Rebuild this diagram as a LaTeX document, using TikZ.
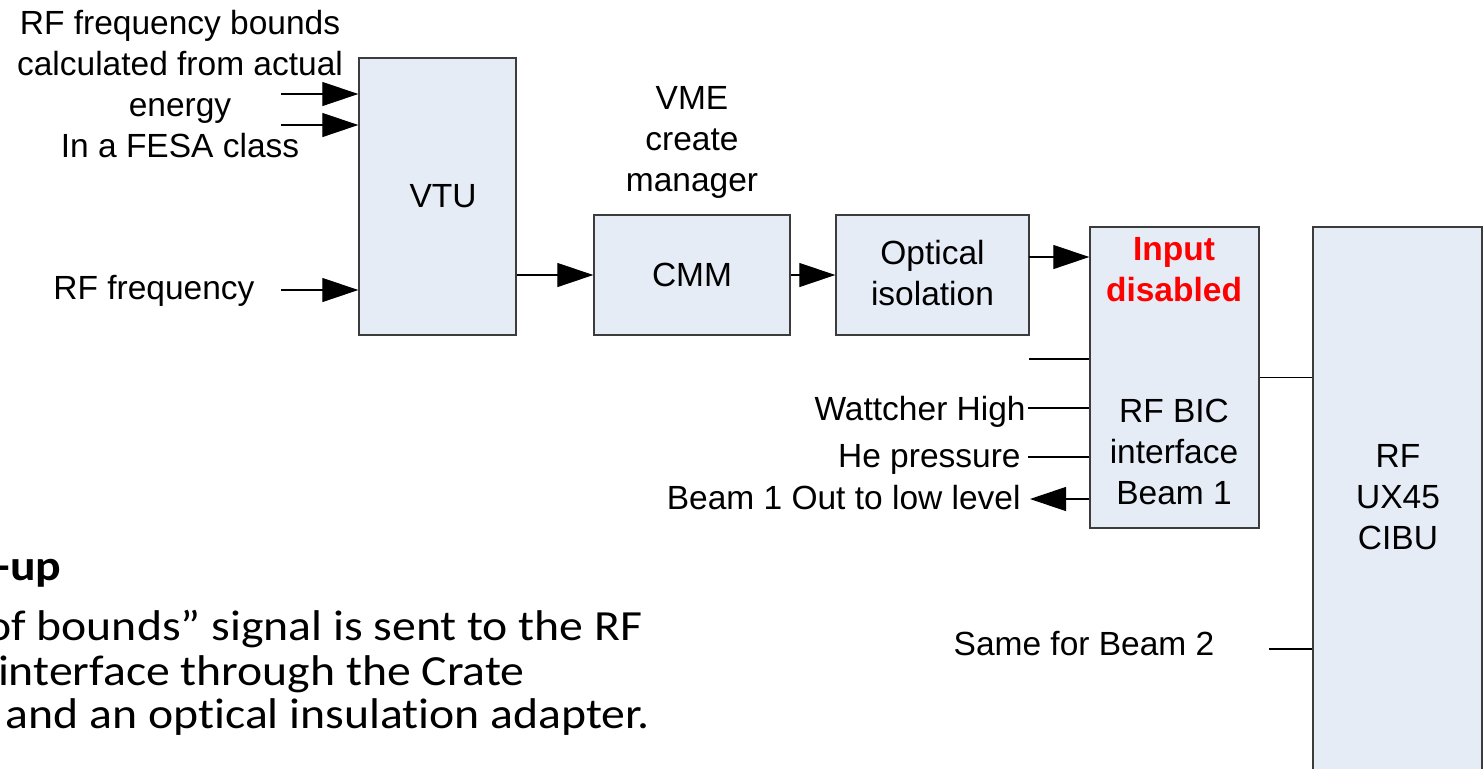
\documentclass[tikz,border=0pt]{standalone}
\usepackage{fontspec}
\setmainfont{Liberation Sans}
\newfontfamily\calibfam[FakeStretch=1.11,Ligatures=NoCommon]{Carlito}
\usetikzlibrary{arrows.meta}
\definecolor{boxfill}{RGB}{230,236,246}
\definecolor{boxline}{RGB}{60,60,60}
\newcommand{\lblfont}{\fontsize{16.75pt}{20.5pt}\selectfont}
\newcommand{\calibfont}{\calibfam\fontsize{21.5pt}{22pt}\selectfont}
\begin{document}
\begin{tikzpicture}[x=0.5pt,y=-0.5pt,
  box/.style={draw=boxline, fill=boxfill, line width=0.7pt, inner sep=0pt, font=\lblfont, align=center},
  lbl/.style={font=\lblfont, align=center, inner sep=0pt},
  slide/.style={font=\calibfont, inner sep=0pt},
  conn/.style={draw=black, line width=0.6pt},
  arr/.style={conn, -{Triangle[length=18pt,width=12pt]}},
]
\useasboundingbox (0,0) rectangle (1484,768);
\clip (0,0) rectangle (1484,768);

% boxes
\node[box, minimum width=78.5pt, minimum height=138.5pt] (vtu) at (437.5,196.5) {};
\node[lbl] (vtut) at (443,196) {VTU};
\node[box, minimum width=98pt, minimum height=60pt] (cmm) at (692,275) {CMM};
\node[box, minimum width=96.5pt, minimum height=60pt] (opt) at (932.5,275) {};
\node[lbl] (optt) at (932.5,273) {Optical\\isolation};
\node[box, minimum width=84.5pt, minimum height=150.5pt] (bic) at (1174.5,377.5) {};
\node[lbl, text=red, font=\lblfont\bfseries] (inp) at (1174,270) {Input\\disabled};
\node[lbl] (bict) at (1174,451.5) {RF BIC\\interface\\Beam 1};
\node[box, minimum width=84.5pt, minimum height=286.5pt] (cibu) at (1397.5,513.5) {};
\node[lbl] (cibut) at (1398,497) {RF\\UX45\\CIBU};

% labels
\node[lbl] (bounds) at (180,84.5) {RF frequency bounds\\calculated from actual\\energy\\In a FESA class};
\node[lbl] (vme) at (692,142.5) {VME\\create\\manager};
\node[lbl, anchor=base] (rff) at (154,299) {RF frequency};
\node[lbl, anchor=base east] (watt) at (1026,420) {Wattcher High};
\node[lbl, anchor=base east] (hep) at (1021,467) {He pressure};
\node[lbl, anchor=base east] (bout) at (1021,509) {Beam 1 Out to low level};
\node[lbl, anchor=base] (same) at (1084,655) {Same for Beam 2};

% slide text (cropped at the left edge, as in the reference)
\node[slide, font=\calibfont\bfseries, anchor=base east] (hd) at (62,580) {-up};
\node[slide, anchor=base east] (l1) at (643,640) {of bounds” signal is sent to the RF};
\node[slide, anchor=base east] (l2) at (525,685) {interface through the Crate};
\node[slide, anchor=base east] (l3) at (650,728) {and an optical insulation adapter.};

% free ends
\coordinate (s1) at (281,94);
\coordinate (s2) at (281,125);
\coordinate (s3) at (281,290);
\coordinate (oa) at (1029,257);
\coordinate (b0) at (1029,359);
\coordinate (b1) at (1028,408);
\coordinate (b2) at (1028,457);
\coordinate (b3) at (1030,499);
\coordinate (sb) at (1269,649);

% connectors
\draw[arr] (s1) -- (s1 -| vtu.west);
\draw[arr] (s2) -- (s2 -| vtu.west);
\draw[arr] (s3) -- (s3 -| vtu.west);
\draw[arr] (cmm.west -| vtu.east) -- (cmm.west);
\draw[arr] (cmm.east) -- (opt.west);
\draw[arr] (oa) -- (oa -| bic.west);
\draw[conn] (b0) -- (b0 -| bic.west);
\draw[conn] (b1) -- (b1 -| bic.west);
\draw[conn] (b2) -- (b2 -| bic.west);
\draw[arr] (b3 -| bic.west) -- (b3);
\draw[conn] (bic.east) -- (bic.east -| cibu.west);
\draw[conn] (sb) -- (sb -| cibu.west);
\end{tikzpicture}
\end{document}
